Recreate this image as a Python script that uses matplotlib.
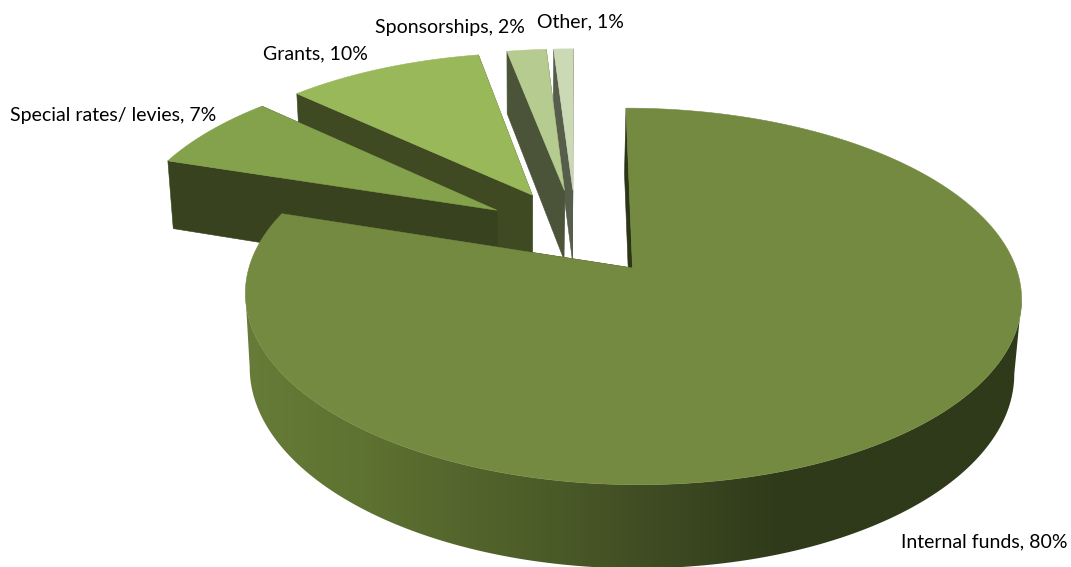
import numpy as np
import matplotlib
matplotlib.use("Agg")
import matplotlib.pyplot as plt
from matplotlib.colors import LinearSegmentedColormap
from matplotlib.patches import Polygon

# Funding shares, in clockwise order from twelve o'clock
categories = ["Internal funds", "Special rates/ levies", "Grants", "Sponsorships", "Other"]
shares = [80, 7, 10, 2, 1]

top_colors = ["#758a41", "#84a24b", "#98b85a", "#b5cb90", "#cbdab5"]
face_colors = ["#2b3616", "#39421e", "#3f4a22", "#4b5339", "#565d4a"]

# Label anchors (left edge, vertical centre) in pixels
label_pos = [(901, 542), (10, 115), (263, 54), (375, 27), (537, 22)]

# Wall shading of the large slice, stops along the horizontal pixel position
wall_x = [245, 363, 563, 630, 780, 1025]
wall_col = ["#667c38", "#5e7231", "#495927", "#424f24", "#2f3a1a", "#2f3a1a"]

EXPLODE = 0.25
PERSP = 0.151
R_X = 383.6
R_Y = 184.0
APEX_X = 632.5
SHEAR = 6.5
TOP_Y = 268.0
BASE_Y = 341.0
BASE_RY = 193.0
BASE_SCALE = 0.985
BASE_DX = -1.5
CENTER_SHIFT_U = -0.003


def project(u, v, base=False):
    """Map plane coordinates to pixels; the origin sits at the large slice's apex."""
    u, v = np.asarray(u, float), np.asarray(v, float)
    d = 1 + PERSP * v
    if base:
        return APEX_X + BASE_DX + BASE_SCALE * R_X * u / d - SHEAR * v, BASE_Y - BASE_RY * v / d
    return APEX_X + R_X * u / d - SHEAR * v, TOP_Y - R_Y * v / d


fig = plt.figure(figsize=(10.71, 5.67), dpi=100)
ax = fig.add_axes([0, 0, 1, 1])

# Slice angles and the offset of each slice from the pie's true centre
edges = np.radians(np.cumsum([0] + shares) * 3.6)
mids = (edges[:-1] + edges[1:]) / 2
cu = -EXPLODE * np.sin(mids[0]) + CENTER_SHIFT_U
cv = -EXPLODE * np.cos(mids[0])

wall_cmap = LinearSegmentedColormap.from_list(
    "wall", [((x - wall_x[0]) / (wall_x[-1] - wall_x[0]), c) for x, c in zip(wall_x, wall_col)])


def poly(xs, ys, color, z):
    p = Polygon(np.column_stack([xs, ys]), closed=True, facecolor=color,
                edgecolor=color, linewidth=0.4, zorder=z)
    ax.add_patch(p)
    return p


# Back slices are painted first, the large slice last
for z, i in enumerate([4, 3, 2, 1, 0]):
    if i == 0:
        au, av = 0.0, 0.0
    else:
        au = cu + EXPLODE * np.sin(mids[i])
        av = cv + EXPLODE * np.cos(mids[i])
    t = np.linspace(edges[i], edges[i + 1], max(24, int(shares[i] * 8)))
    u = au + np.sin(t)
    v = av + np.cos(t)
    xt, yt = project(u, v)
    xb, yb = project(u, v, base=True)
    ax_t, ay_t = project(au, av)
    ax_b, ay_b = project(au, av, base=True)
    base_z = z * 10

    # Radial cut faces
    poly([ax_t, xt[-1], xb[-1], ax_b], [ay_t, yt[-1], yb[-1], ay_b], face_colors[i], base_z)
    poly([ax_t, xt[0], xb[0], ax_b], [ay_t, yt[0], yb[0], ay_b], face_colors[i], base_z + 1)

    # Curved outer wall of the large slice: a horizontal gradient clipped to the band
    # between the top and base arcs, each taken from its right extreme to its left extreme
    if i == 0:
        rt, lt = np.argmax(xt), np.argmin(xt)
        rb, lb = np.argmax(xb), np.argmin(xb)
        band = np.column_stack([np.r_[xt[rt:lt + 1], xb[rb:lb + 1][::-1]],
                                np.r_[yt[rt:lt + 1], yb[rb:lb + 1][::-1]]])
        outline = Polygon(band, closed=True, transform=ax.transData,
                          facecolor="none", edgecolor="none")
        ax.add_patch(outline)
        ramp = np.linspace(0, 1, 512).reshape(1, -1)
        img = ax.imshow(ramp, cmap=wall_cmap, extent=(wall_x[0], wall_x[-1], 600, 100),
                        aspect="auto", interpolation="bilinear", zorder=base_z + 2)
        img.set_clip_path(outline)

    # Top surface
    poly(np.r_[ax_t, xt], np.r_[ay_t, yt], top_colors[i], base_z + 3)

ax.set_xlim(0, 1071)
ax.set_ylim(567, 0)
ax.axis("off")

# Data labels
plt.rcParams["font.family"] = ["Lato", "DejaVu Sans"]
for name, share, (lx, ly) in zip(categories, shares, label_pos):
    ax.text(lx, ly, f"{name}, {share}%", fontsize=14, color="black",
            ha="left", va="center", zorder=100)

fig.savefig("out.png", dpi=100, facecolor="white")
